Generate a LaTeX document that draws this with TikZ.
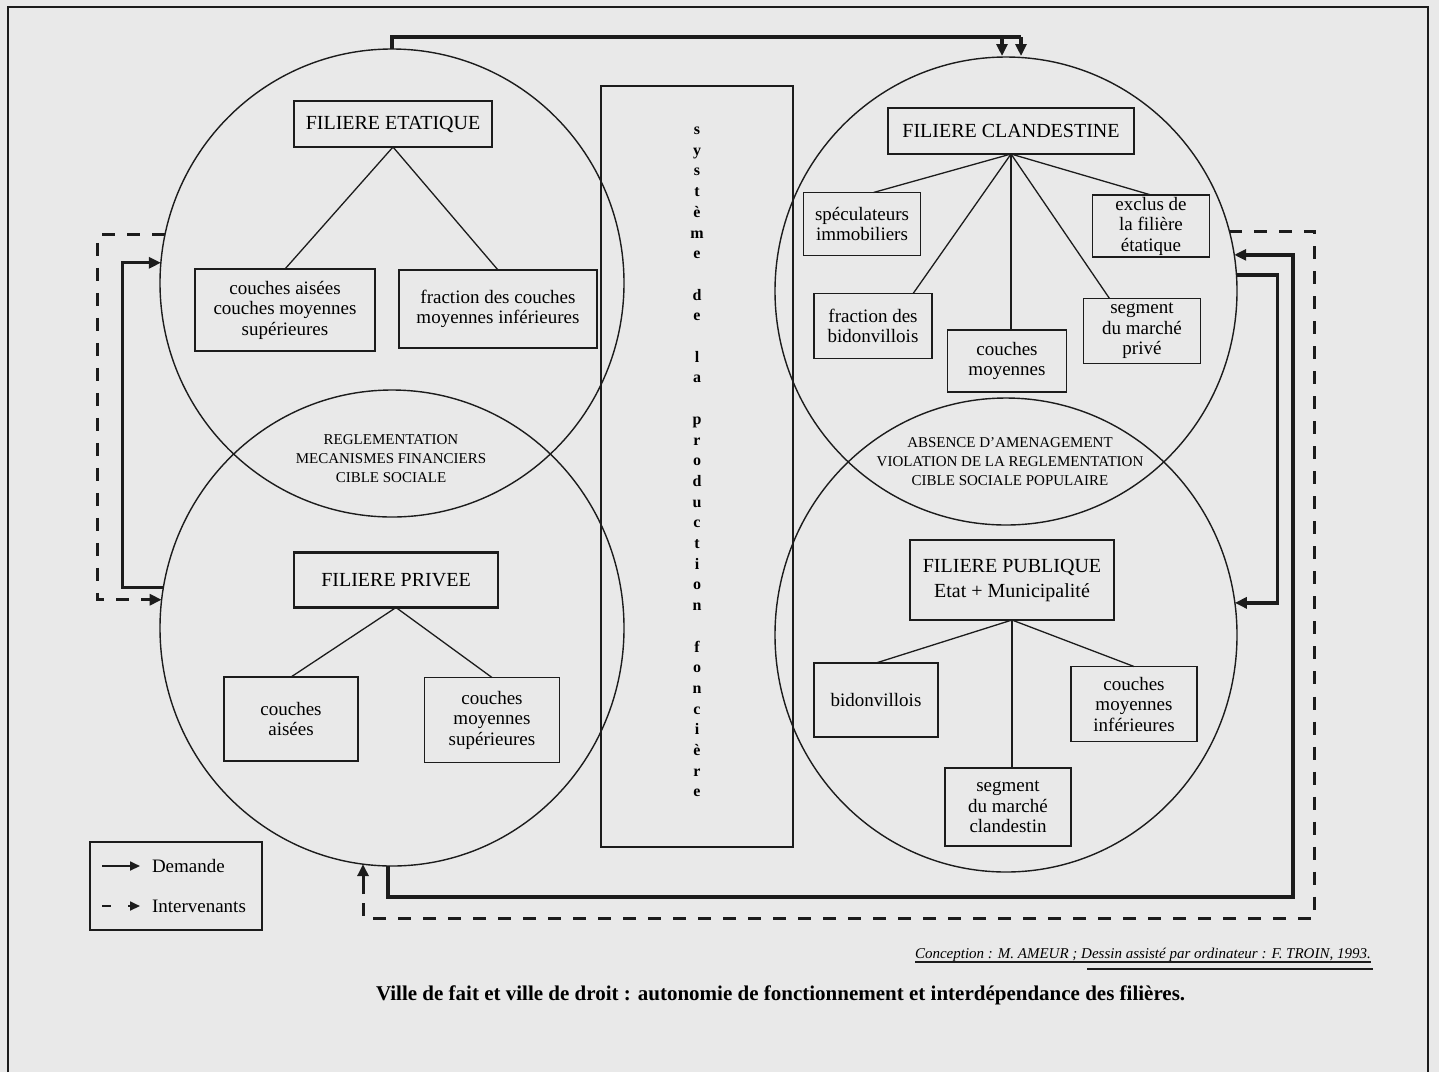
\documentclass[tikz,border=0pt]{standalone}
\usepackage{fontspec}
\setmainfont{Liberation Serif}
\usetikzlibrary{shapes.geometric,arrows.meta,calc}
\definecolor{paper}{RGB}{233,233,233}
\definecolor{ink}{RGB}{28,28,28}
\begin{document}
\begin{tikzpicture}[x=1pt,y=-1pt,
  every node/.style={inner sep=0pt, outer sep=0pt},
  circ/.style={ellipse, draw=ink, line width=1.4pt},
  titlebox/.style={draw=ink, line width=2.4pt, align=center, font=\fontsize{20}{25}\selectfont},
  leafbox/.style={draw=ink, line width=1.7pt, align=center, font=\fontsize{19}{20.5}\selectfont},
  lens/.style={align=center, font=\fontsize{15}{19}\selectfont},
  branch/.style={draw=ink, line width=1.3pt},
  solidc/.style={draw=ink, line width=3.4pt},
  dashc/.style={draw=ink, line width=3pt, dash pattern=on 13pt off 12pt},
  arrowend/.style={-{Triangle[length=12pt,width=11pt]}},
]
\fill[paper] (0,0) rectangle (1439,1072);
\useasboundingbox (0,0) rectangle (1439,1072);
% frame
\draw[ink, line width=1.3pt] (8,1072) -- (8,7) -- (1428,7) -- (1428,1072);

% circles
\node[circ, minimum width=464pt, minimum height=468pt] (cUL) at (392,283) {};
\node[circ, minimum width=464pt, minimum height=476pt] (cLL) at (392,628) {};
\node[circ, minimum width=462pt, minimum height=468pt] (cUR) at (1006,291) {};
\node[circ, minimum width=462pt, minimum height=474pt] (cLR) at (1006,635) {};

% central system box
\node[draw=ink, line width=1.3pt, minimum width=192pt, minimum height=761pt] (sys) at (697,466.5) {};
\node[font=\bfseries\fontsize{16}{20.7}\selectfont, align=center] (systxt) at (697,462)
 {s\\y\\s\\t\\è\\m\\e\\~\\d\\e\\~\\l\\a\\~\\p\\r\\o\\d\\u\\c\\t\\i\\o\\n\\~\\f\\o\\n\\c\\i\\è\\r\\e};

% title boxes
\node[titlebox, minimum width=198pt, minimum height=46pt] (etat) at (393,124) {FILIERE ETATIQUE};
\node[titlebox, minimum width=246pt, minimum height=46pt] (clan) at (1011,131) {FILIERE CLANDESTINE};
\node[titlebox, minimum width=204pt, minimum height=55pt] (priv) at (396,580) {FILIERE PRIVEE};
\node[titlebox, minimum width=204pt, minimum height=80pt] (publ) at (1012,580) {FILIERE PUBLIQUE\\Etat + Municipalité};

% leaf boxes
\node[leafbox, minimum width=180pt, minimum height=82pt] (ca1) at (285,310) {couches aisées\\couches moyennes\\supérieures};
\node[leafbox, minimum width=198pt, minimum height=78pt] (fc) at (498,309) {fraction des couches\\moyennes inférieures};
\node[leafbox, minimum width=117pt, minimum height=63pt] (spec) at (862,224) {spéculateurs\\immobiliers};
\node[leafbox, minimum width=117pt, minimum height=62pt] (excl) at (1151,226) {exclus de\\la filière\\étatique};
\node[leafbox, minimum width=118pt, minimum height=65pt] (fbid) at (873,326) {fraction des\\bidonvillois};
\node[leafbox, minimum width=119pt, minimum height=62pt] (cmoy) at (1007,361) {couches\\moyennes};
\node[leafbox, minimum width=117pt, minimum height=65pt] (segp) at (1142,331) {segment\\du marché\\privé};
\node[leafbox, minimum width=134pt, minimum height=84pt] (ca2) at (291,719) {couches\\aisées};
\node[leafbox, minimum width=135pt, minimum height=85pt] (cms) at (492,720) {couches\\moyennes\\supérieures};
\node[leafbox, minimum width=124pt, minimum height=74pt] (bid) at (876,700) {bidonvillois};
\node[leafbox, minimum width=126pt, minimum height=75pt] (cmi) at (1134,704) {couches\\moyennes\\inférieures};
\node[leafbox, minimum width=126pt, minimum height=78pt] (segc) at (1008,807) {segment\\du marché\\clandestin};

% lens texts
\node[lens] (reg) at (391,459) {REGLEMENTATION\\MECANISMES FINANCIERS\\CIBLE SOCIALE};
\node[lens] (abs) at (1010,462) {ABSENCE D'AMENAGEMENT\\VIOLATION DE LA REGLEMENTATION\\CIBLE SOCIALE POPULAIRE};

% tree branches
\draw[branch] (etat.south) -- (ca1.north);
\draw[branch] (etat.south) -- (fc.north);
\draw[branch] (clan.south) -- (spec.70);
\draw[branch] (clan.south) -- (excl.north);
\draw[branch] (clan.south) -- (fbid.39);
\draw[branch] (clan.south) -- (clan.south |- cmoy.north);
\draw[branch] (clan.south) -- (segp.135);
\draw[branch] (priv.south) -- (ca2.north);
\draw[branch] (priv.south) -- (cms.north);
\draw[branch] (publ.south) -- (bid.north);
\draw[branch] (publ.south) -- (publ.south |- segc.north);
\draw[branch] (publ.south) -- (cmi.north);

% connectors
\coordinate (topA) at (1002,37);
\coordinate (topB) at (1021,37);
\draw[solidc] (cUL.north) |- (topB);
\draw[solidc, arrowend] (topB) -- ++(0,19);
\draw[solidc, arrowend] (topA) -- ++(0,19);

% left side
\draw[solidc, arrowend] (cLL.170) -- ++(-41,0) |- (cUL.175);
\draw[dashc, arrowend] (cUL.168) -- ++(-67,0) |- (cLL.173);

% right side
\coordinate (rs) at (1293,897);
\coordinate (rd) at (1314,918);
\draw[solidc, arrowend] (cLL.269) |- (rs) |- (cUR.9.5);
\draw[solidc, arrowend] (cUR.4) -- ++(41,0) |- (cLR.8.7);
\draw[dashc] (cUR.15) -| (rd) -| ($(cLL.263)+(0,38)$);
\draw[solidc, line width=3pt, arrowend] ($(cLL.263)+(0,30)$) -- (cLL.263);

% legend
\node[draw=ink, line width=1.5pt, minimum width=172pt, minimum height=88pt] (leg) at (176,886) {};
\node[anchor=base west, font=\fontsize{19}{21}\selectfont] (ld) at (152,872) {Demande};
\node[anchor=base west, font=\fontsize{19}{21}\selectfont] (li) at (152,912) {Intervenants};
\draw[ink, line width=1.8pt, -{Triangle[length=10pt,width=9pt]}] ([xshift=-50pt,yshift=6pt]ld.base west) -- ([xshift=-12pt,yshift=6pt]ld.base west);
\draw[ink, line width=1.8pt] ([xshift=-50pt,yshift=6pt]li.base west) -- ([xshift=-41pt,yshift=6pt]li.base west);
\draw[ink, line width=1.8pt, -{Triangle[length=10pt,width=9pt]}] ([xshift=-24pt,yshift=6pt]li.base west) -- ([xshift=-12pt,yshift=6pt]li.base west);

% credit
\node[anchor=base west, font=\itshape\fontsize{15}{17}\selectfont] (cred) at (915,958) {Conception : M. AMEUR ; Dessin assisté par ordinateur : F. TROIN, 1993.};
\draw[ink, line width=1.1pt] ([yshift=-4pt]cred.base west) -- ([yshift=-4pt]cred.base east);
\draw[ink, line width=1.6pt] ([xshift=172pt,yshift=-11pt]cred.base west) -- ([xshift=2pt,yshift=-11pt]cred.base east);

% caption
\node[anchor=base west, font=\bfseries\fontsize{21}{24}\selectfont] (cap) at (376,1000) {Ville de fait et ville de droit : autonomie de fonctionnement et interdépendance des filières.};
\end{tikzpicture}
\end{document}
